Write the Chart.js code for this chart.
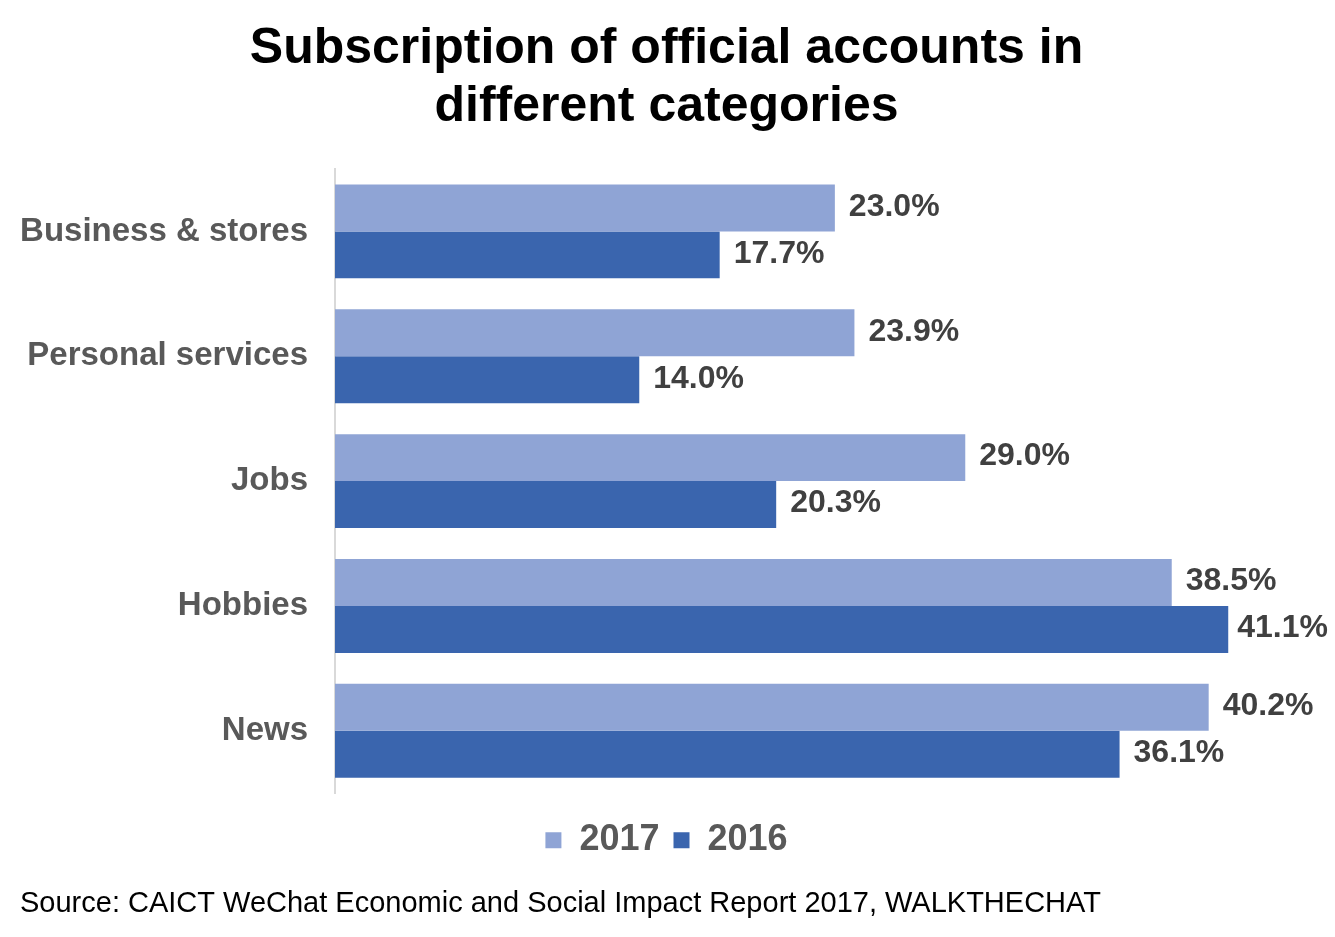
<!DOCTYPE html>
<html lang="en">

<head>
    <meta charset="UTF-8">
    <title>Subscription of official accounts in different categories</title>
    <script src="https://cdn.jsdelivr.net/npm/chart.js@4.4.0/dist/chart.umd.min.js"></script>
    <style>
        body { margin: 0; background: #fff; }
    </style>
</head>

<body>

    <canvas id="myChart" width="1335" height="937"></canvas>
    <script>

        // values (percent)
        const categories = ['Business & stores', 'Personal services', 'Jobs', 'Hobbies', 'News'];
        const seriesNames = ['2017', '2016'];
        const values2017 = [23.0, 23.9, 29.0, 38.5, 40.2];
        const values2016 = [17.7, 14.0, 20.3, 41.1, 36.1];

        const fontName = '"Liberation Sans", Arial, Helvetica, sans-serif';

        // writes the value next to the end of every bar, kept inside the canvas
        const barLabels = {
            id: 'barLabels',
            afterDatasetsDraw(chart) {
                let ctx = chart.ctx;
                ctx.save();
                ctx.font = 'bold 32px ' + fontName;
                ctx.fillStyle = '#404040';
                ctx.textAlign = 'left';
                ctx.textBaseline = 'middle';
                chart.data.datasets.forEach((ds, i) => {
                    let meta = chart.getDatasetMeta(i);
                    meta.data.forEach((bar, j) => {
                        let txt = ds.data[j].toFixed(1) + '%';
                        let w = ctx.measureText(txt).width;
                        let x = Math.min(bar.x + 14, chart.width - w - 7);
                        ctx.fillText(txt, x, bar.y - 1);
                    });
                });
                ctx.restore();
            }
        };

        let ctx = document.getElementById('myChart').getContext('2d');
        let myChart = new Chart(ctx, {
            type: 'bar',
            data: {
                labels: categories,
                datasets: [{
                    label: seriesNames[0],
                    data: values2017,
                    backgroundColor: '#8FA4D5'
                }, {
                    label: seriesNames[1],
                    data: values2016,
                    backgroundColor: '#3A65AE'
                }]
            },
            options: {
                indexAxis: 'y',
                responsive: false,
                animation: false,
                layout: {
                    padding: { left: 20, right: 22, top: 0, bottom: 0 }
                },
                datasets: {
                    bar: {
                        categoryPercentage: 0.752,
                        barPercentage: 1
                    }
                },
                scales: {
                    x: {
                        min: 0,
                        max: 45,
                        grid: { display: false, drawTicks: false },
                        border: { display: false },
                        ticks: { display: false },
                        // empty strip between the bars and the legend
                        afterFit(scale) {
                            scale.height = 15;
                        }
                    },
                    y: {
                        grid: { display: false, drawTicks: false },
                        border: { display: true, color: '#D9D9D9', width: 2 },
                        ticks: {
                            padding: 27,
                            color: '#595959',
                            font: { family: fontName, size: 33, weight: 'bold' }
                        },
                        afterFit(scale) {
                            scale.width = 315;
                        }
                    }
                },
                plugins: {
                    title: {
                        display: true,
                        text: ['Subscription of official accounts in', 'different categories'],
                        color: '#000',
                        font: { family: fontName, size: 50, weight: 'bold', lineHeight: 1.16 },
                        padding: { top: 20, bottom: 33 }
                    },
                    subtitle: {
                        display: true,
                        position: 'bottom',
                        align: 'start',
                        text: 'Source: CAICT WeChat Economic and Social Impact Report 2017, WALKTHECHAT',
                        color: '#000',
                        font: { family: fontName, size: 29, weight: 'normal' },
                        padding: { top: 18, bottom: 16 }
                    },
                    legend: {
                        position: 'bottom',
                        labels: {
                            boxWidth: 16,
                            boxHeight: 16,
                            padding: 14,
                            color: '#595959',
                            font: { family: fontName, size: 36, weight: 'bold' }
                        }
                    },
                    tooltip: { enabled: false }
                }
            },
            plugins: [barLabels]
        });

    </script>

</body>

</html>
